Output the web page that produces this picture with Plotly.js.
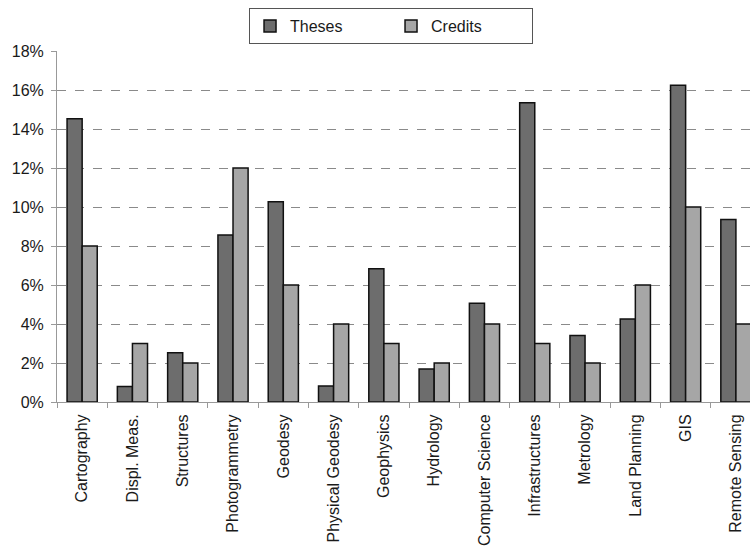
<!DOCTYPE html>
<html>
<head>
<meta charset="utf-8">
<script src="https://cdn.plot.ly/plotly-3.0.1.min.js"></script>
<style>html,body{margin:0;padding:0;background:#fff;}#chart{width:750px;height:553px;}</style>
</head>
<body>
<div id="chart"></div>
<script>
const categories = ["Cartography", "Displ. Meas.", "Structures", "Photogrammetry", "Geodesy", "Physical Geodesy", "Geophysics", "Hydrology", "Computer Science", "Infrastructures", "Metrology", "Land Planning", "GIS", "Remote Sensing"];
const theses = [0.1453, 0.0080, 0.0252, 0.0857, 0.1027, 0.0082, 0.0683, 0.0169, 0.0507, 0.1535, 0.0341, 0.0426, 0.1624, 0.0936];
const credits = [0.08, 0.03, 0.02, 0.12, 0.06, 0.04, 0.03, 0.02, 0.04, 0.03, 0.02, 0.06, 0.10, 0.04];
const yTicks = [0, 0.02, 0.04, 0.06, 0.08, 0.10, 0.12, 0.14, 0.16, 0.18];
const yTickText = ["0%", "2%", "4%", "6%", "8%", "10%", "12%", "14%", "16%", "18%"];

const font = {family: "Liberation Sans, Arial, sans-serif", size: 16, color: "#1a1a1a"};
const data = [
  {type: "bar", name: "Theses", x: categories, y: theses,
   marker: {color: "#6d6d6d", line: {color: "#111", width: 1.5}}},
  {type: "bar", name: "Credits", x: categories, y: credits,
   marker: {color: "#a6a6a6", line: {color: "#111", width: 1.5}}}
];
const layout = {
  width: 750, height: 553,
  margin: {l: 57, r: 0, t: 51, b: 151},
  font: font,
  paper_bgcolor: "#fff", plot_bgcolor: "#fff",
  barmode: "group", bargap: 0.4, bargroupgap: 0,
  showlegend: true,
  legend: {orientation: "h", x: 0.482, xanchor: "center", y: 1.122, yanchor: "top",
           bordercolor: "#555", borderwidth: 1, bgcolor: "#fff",
           font: {family: "Liberation Sans, Arial, sans-serif", size: 16, color: "#1a1a1a"},
           entrywidth: 96, traceorder: "normal"},
  xaxis: {type: "category", range: [-0.5, 13.28], tickangle: -90,
          showline: true, linecolor: "#999", linewidth: 1,
          ticks: "outside", ticklen: 5, tickcolor: "#999", tickson: "boundaries",
          ticklabelstandoff: 5,
          showgrid: false, tickfont: {size: 16}, fixedrange: true},
  yaxis: {range: [0, 0.18], tickvals: yTicks, ticktext: yTickText,
          showline: true, linecolor: "#999", linewidth: 1,
          ticks: "outside", ticklen: 5, tickcolor: "#999",
          ticklabelstandoff: 4,
          showgrid: true, gridcolor: "#8a8a8a", gridwidth: 1, griddash: "dash",
          zeroline: false, tickfont: {size: 16}, fixedrange: true}
};
Plotly.newPlot("chart", data, layout, {displayModeBar: false, staticPlot: true});
</script>
</body>
</html>
